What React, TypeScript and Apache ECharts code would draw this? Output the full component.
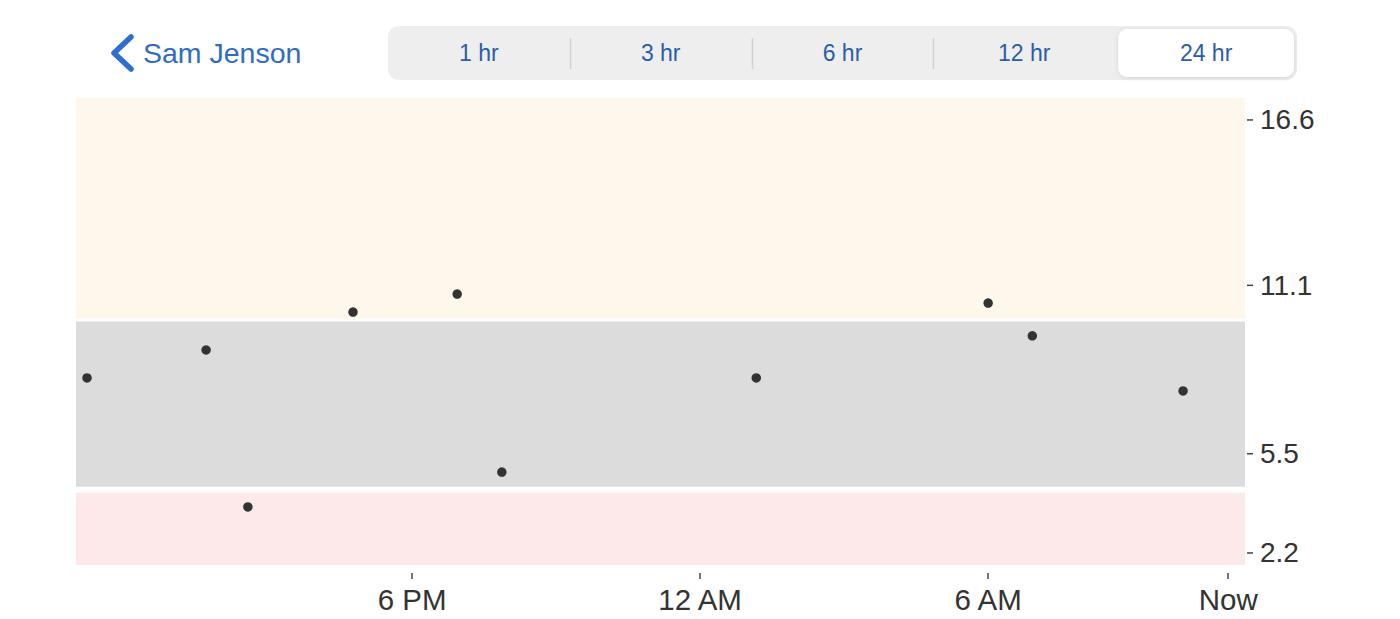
import React, { useEffect, useRef } from "react";
import * as echarts from "echarts";

// Hours relative to "Now"
const pointHours = [-23.77, -21.29, -20.42, -18.23, -16.06, -15.13, -9.83, -5.0, -4.08, -0.94];
const pointValues = [8.02, 8.95, 3.73, 10.21, 10.81, 4.89, 8.02, 10.51, 9.42, 7.59];

const xTickValues = [-17, -11, -5, 0];
const xTickLabels = ["6 PM", "12 AM", "6 AM", "Now"];
const yTickValues = [2.2, 5.5, 11.1, 16.6];
const yTickLabels = ["2.2", "5.5", "11.1", "16.6"];

const bandNames = ["high", "normal", "low"];
const bandFrom = [10.0, 4.4, 1.8];
const bandTo = [17.33, 9.9, 4.2];
const bandColors = ["#fdf7ec", "#dcdcdc", "#fde8ea"];

const segments = ["1 hr", "3 hr", "6 hr", "12 hr", "24 hr"];
const selectedSegment = 4;
const title = "Sam Jenson";

export default function App() {
  const ref = useRef<HTMLDivElement>(null);
  useEffect(() => {
    if (!ref.current) return;
    const chart = echarts.init(ref.current, null, { renderer: "svg" });
    const font = "Liberation Sans, Arial, Helvetica, sans-serif";

    const segX = 388;
    const segW = 909;
    const segY = 26;
    const segH = 54;
    const sw = segW / segments.length;
    const graphics: any[] = [
      {
        type: "polyline",
        shape: { points: [[131, 37], [114, 53], [131, 69]] },
        style: { stroke: "#2c6fd0", lineWidth: 5.5, fill: null, lineCap: "round", lineJoin: "round" },
      },
      {
        type: "text",
        x: 143,
        y: 53,
        style: { text: title, fill: "#2f6dc2", font: `28.5px ${font}`, verticalAlign: "middle" },
      },
      {
        type: "rect",
        shape: { x: segX, y: segY, width: segW, height: segH, r: 11 },
        style: { fill: "#eeeeee" },
      },
      {
        type: "rect",
        shape: { x: segX + sw * selectedSegment + 3, y: segY + 3, width: sw - 6, height: segH - 6, r: 9 },
        style: { fill: "#ffffff", shadowBlur: 4, shadowColor: "rgba(0,0,0,0.12)", shadowOffsetY: 1 },
      },
    ];
    for (let i = 1; i < segments.length; i++) {
      if (i === selectedSegment || i === selectedSegment + 1) continue;
      const x = Math.round(segX + sw * i) + 0.5;
      graphics.push({
        type: "line",
        shape: { x1: x, y1: 38, x2: x, y2: 69 },
        style: { stroke: "#d2d2d2", lineWidth: 1.5 },
      });
    }
    segments.forEach((s, i) => {
      graphics.push({
        type: "text",
        x: segX + sw * i + sw / 2,
        y: 53,
        style: {
          text: s,
          fill: "#2b5ea6",
          font: `23px ${font}`,
          align: "center",
          verticalAlign: "middle",
        },
      });
    });

    chart.setOption({
      animation: false,
      backgroundColor: "#ffffff",
      graphic: graphics,
      grid: { left: 76, right: 155, top: 98, bottom: 54 },
      xAxis: {
        type: "value",
        min: -24,
        max: 0.35,
        offset: 8,
        axisLine: { show: false },
        splitLine: { show: false },
        axisTick: { show: true, length: 6, customValues: xTickValues, lineStyle: { color: "#444", width: 1.5 } },
        axisLabel: {
          customValues: xTickValues,
          margin: 11,
          color: "#333",
          fontSize: 29.5,
          fontFamily: font,
          formatter: (v: number) => {
            const i = xTickValues.findIndex((t) => Math.abs(t - v) < 1e-6);
            return i >= 0 ? xTickLabels[i] : "";
          },
        },
      },
      yAxis: {
        type: "value",
        position: "right",
        min: 1.8,
        max: 17.33,
        offset: 1,
        axisLine: { show: false },
        splitLine: { show: false },
        axisTick: { show: true, length: 6, customValues: yTickValues, lineStyle: { color: "#444", width: 1.5 } },
        axisLabel: {
          customValues: yTickValues,
          margin: 14,
          color: "#333",
          fontSize: 28,
          fontFamily: font,
          formatter: (v: number) => {
            const i = yTickValues.findIndex((t) => Math.abs(t - v) < 1e-6);
            return i >= 0 ? yTickLabels[i] : "";
          },
        },
      },
      series: [
        {
          type: "scatter",
          name: "readings",
          symbolSize: 9.5,
          itemStyle: { color: "#333333", opacity: 1 },
          data: pointHours.map((h, i) => [h, pointValues[i]]),
          z: 5,
          markArea: {
            silent: true,
            data: bandNames.map((n, i) => [
              { name: "", yAxis: bandFrom[i], itemStyle: { color: bandColors[i] } },
              { yAxis: bandTo[i] },
            ]),
          },
        },
      ],
    });

    // y-axis tick marks, positioned through the axis's own scale
    const tickGraphics = yTickValues.map((v) => {
      const py = chart.convertToPixel({ yAxisIndex: 0 }, v) as number;
      const px = chart.convertToPixel({ xAxisIndex: 0 }, 0.35) as number;
      return {
        type: "line",
        shape: { x1: px + 2, y1: py, x2: px + 8, y2: py },
        style: { stroke: "#444", lineWidth: 1.5 },
      };
    });
    chart.setOption({ graphic: [...graphics, ...tickGraphics] });

    return () => chart.dispose();
  }, []);
  return (
    <div
      ref={ref}
      style={{ position: "fixed", left: 0, top: 0, width: 1400, height: 619 }}
    />
  );
}
